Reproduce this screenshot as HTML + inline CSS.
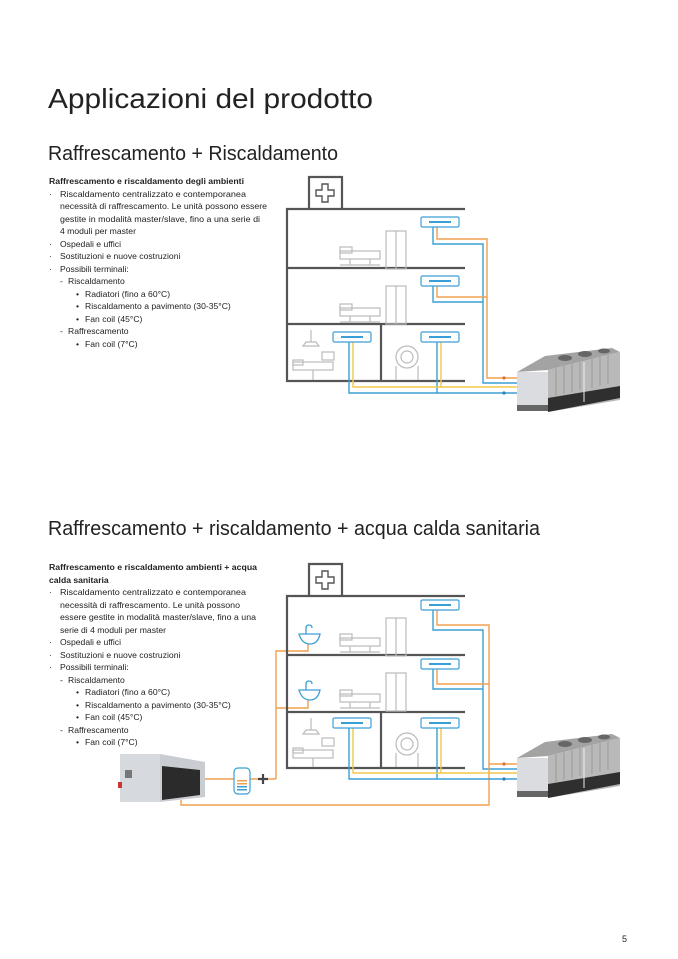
<!DOCTYPE html>
<html><head><meta charset="utf-8"><style>
html,body{margin:0;padding:0;background:#fff;width:678px;height:959px;overflow:hidden}
svg{display:block}
text{font-family:"Liberation Sans",sans-serif;fill:#222}
.t{font-size:8.6px;fill:#3a3a3a}
.b{font-weight:bold;fill:#222}
.bl{stroke:#3a9fd6;fill:none;stroke-width:1.4}
.or{stroke:#f0a050;fill:none;stroke-width:1.4}
.ye{stroke:#f2c74a;fill:none;stroke-width:1.4}
.wall{stroke:#555;fill:none;stroke-width:2.2}
.fu{stroke:#bbb;fill:none;stroke-width:1.2}
</style></head><body>
<svg width="678" height="959" viewBox="0 0 678 959" xmlns="http://www.w3.org/2000/svg">
<defs>
<g id="fc"><rect x="0" y="0" width="38" height="10" rx="1.5" fill="#fff" stroke="#3a9fd6" stroke-width="1.2"/><rect x="8" y="4" width="22" height="2" fill="#3a9fd6"/></g>
<g id="bed" class="fu"><rect x="0" y="6" width="40" height="8"/><rect x="0" y="2" width="12" height="6"/><line x1="10" y1="14" x2="10" y2="20"/><line x1="30" y1="14" x2="30" y2="20"/><line x1="0" y1="20" x2="40" y2="20"/></g>
<g id="ward" class="fu"><rect x="0" y="0" width="20" height="38"/><line x1="10" y1="0" x2="10" y2="38"/></g>
<g id="cross"><path d="M322,184 h6 v6 h6 v6 h-6 v6 h-6 v-6 h-6 v-6 h6 z" fill="none" stroke="#555" stroke-width="1.4"/></g>
<g id="chiller">
<polygon points="517,372 545,356 612,348 620,352 548,370" fill="#a3a3a3"/>
<polygon points="548,370 620,352 620,400 548,412" fill="#b9b9b9"/>
<g stroke="#9a9a9a" stroke-width="1"><line x1="556" y1="368" x2="556" y2="396"/><line x1="564" y1="366" x2="564" y2="394"/><line x1="572" y1="364" x2="572" y2="392"/><line x1="580" y1="362" x2="580" y2="390"/><line x1="592" y1="359" x2="592" y2="388"/><line x1="600" y1="357" x2="600" y2="386"/><line x1="608" y1="355" x2="608" y2="384"/></g>
<rect x="517" y="372" width="31" height="36" fill="#dadcdf"/>
<polygon points="548,398 620,386 620,398 548,412" fill="#2f2f2f"/>
<rect x="517" y="405" width="31" height="6" fill="#666"/>
<ellipse cx="565" cy="358" rx="7" ry="3" fill="#666"/><ellipse cx="585" cy="354" rx="7" ry="3" fill="#666"/><ellipse cx="604" cy="351" rx="6" ry="2.5" fill="#666"/>
<line x1="584" y1="362" x2="584" y2="402" stroke="#eee" stroke-width="1"/>
</g>
</defs>

<text x="48" y="108" font-size="28" textLength="325" lengthAdjust="spacingAndGlyphs" fill="#222">Applicazioni del prodotto</text>
<text x="48" y="160" font-size="20" textLength="290" lengthAdjust="spacingAndGlyphs">Raffrescamento + Riscaldamento</text>
<text x="48" y="535" font-size="20" textLength="492" lengthAdjust="spacingAndGlyphs">Raffrescamento + riscaldamento + acqua calda sanitaria</text>
<text x="622" y="942" font-size="9">5</text>

<g class="t">
<text x="49" y="184" class="t b" textLength="195" lengthAdjust="spacingAndGlyphs">Raffrescamento e riscaldamento degli ambienti</text>
<text x="49" y="197">·</text><text x="60" y="197" textLength="186" lengthAdjust="spacingAndGlyphs">Riscaldamento centralizzato e contemporanea</text>
<text x="60" y="209" textLength="207" lengthAdjust="spacingAndGlyphs">necessità di raffrescamento. Le unità possono essere</text>
<text x="60" y="222" textLength="200" lengthAdjust="spacingAndGlyphs">gestite in modalità master/slave, fino a una serie di</text>
<text x="60" y="234">4 moduli per master</text>
<text x="49" y="247">·</text><text x="60" y="247">Ospedali e uffici</text>
<text x="49" y="259">·</text><text x="60" y="259">Sostituzioni e nuove costruzioni</text>
<text x="49" y="272">·</text><text x="60" y="272">Possibili terminali:</text>
<text x="60" y="284">-</text><text x="68" y="284">Riscaldamento</text>
<text x="76" y="297">•</text><text x="85" y="297">Radiatori (fino a 60°C)</text>
<text x="76" y="309">•</text><text x="85" y="309">Riscaldamento a pavimento (30-35°C)</text>
<text x="76" y="322">•</text><text x="85" y="322">Fan coil (45°C)</text>
<text x="60" y="334">-</text><text x="68" y="334">Raffrescamento</text>
<text x="76" y="347">•</text><text x="85" y="347">Fan coil (7°C)</text>
</g>

<g class="t">
<text x="49" y="570" class="t b" textLength="208" lengthAdjust="spacingAndGlyphs">Raffrescamento e riscaldamento ambienti + acqua</text>
<text x="49" y="583" class="t b">calda sanitaria</text>
<text x="49" y="595">·</text><text x="60" y="595" textLength="186" lengthAdjust="spacingAndGlyphs">Riscaldamento centralizzato e contemporanea</text>
<text x="60" y="608" textLength="180" lengthAdjust="spacingAndGlyphs">necessità di raffrescamento. Le unità possono</text>
<text x="60" y="620" textLength="196" lengthAdjust="spacingAndGlyphs">essere gestite in modalità master/slave, fino a una</text>
<text x="60" y="633">serie di 4 moduli per master</text>
<text x="49" y="645">·</text><text x="60" y="645">Ospedali e uffici</text>
<text x="49" y="658">·</text><text x="60" y="658">Sostituzioni e nuove costruzioni</text>
<text x="49" y="670">·</text><text x="60" y="670">Possibili terminali:</text>
<text x="60" y="683">-</text><text x="68" y="683">Riscaldamento</text>
<text x="76" y="695">•</text><text x="85" y="695">Radiatori (fino a 60°C)</text>
<text x="76" y="708">•</text><text x="85" y="708">Riscaldamento a pavimento (30-35°C)</text>
<text x="76" y="720">•</text><text x="85" y="720">Fan coil (45°C)</text>
<text x="60" y="733">-</text><text x="68" y="733">Raffrescamento</text>
<text x="76" y="745">•</text><text x="85" y="745">Fan coil (7°C)</text>
</g>

<g>
<path class="wall" d="M309,209 V177 H342 V209"/>
<use href="#cross"/>
<path class="wall" d="M465,209 H287 V381 H465 M287,268 H465 M287,324 H465 M381,324 V381"/>
<use href="#bed" x="340" y="245"/><use href="#ward" x="386" y="231"/>
<use href="#bed" x="340" y="302"/><use href="#ward" x="386" y="286"/>
<g class="fu"><line x1="311" y1="330" x2="311" y2="342"/><path d="M303,346 h16 l-3,-4 h-10 z"/><rect x="322" y="352" width="12" height="8"/><rect x="293" y="362" width="40" height="8"/><rect x="293" y="360" width="10" height="5"/><line x1="313" y1="370" x2="313" y2="380"/>
<circle cx="407" cy="357" r="11"/><circle cx="407" cy="357" r="6"/><path d="M396,380 v-14 M418,380 v-14"/></g>
<path class="bl" d="M433,227 V244 H483 V383 H517"/>
<path class="or" d="M437,227 V239 H487 V378 H517"/>
<path class="bl" d="M433,286 V302 H483"/>
<path class="or" d="M437,286 V297 H487"/>
<path class="bl" d="M349,342 V393 H517 M437,342 V393"/>
<path class="ye" d="M353,342 V387 H517 M441,342 V387"/>
<use href="#fc" x="421" y="217"/><use href="#fc" x="421" y="276"/><use href="#fc" x="333" y="332"/><use href="#fc" x="421" y="332"/>
<circle cx="504" cy="378" r="1.6" fill="#e07030"/><circle cx="504" cy="393" r="1.6" fill="#2a80c0"/>
<use href="#chiller"/>
</g>

<g>
<path class="wall" d="M309,596 V564 H342 V596"/>
<use href="#cross" y="387"/>
<path class="or" d="M308,644 V651 H276 V779 M308,700 V708 H276"/>
<path class="wall" d="M465,596 H287 V768 H465 M287,655 H465 M287,712 H465 M381,712 V768"/>
<use href="#bed" x="340" y="632"/><use href="#ward" x="386" y="618"/>
<use href="#bed" x="340" y="688"/><use href="#ward" x="386" y="673"/>
<g stroke="#3a9fd6" fill="none" stroke-width="1.3"><path d="M299,634 h21 q-2,10 -10,10 q-8,0 -11,-10 z"/><path d="M306,634 v-6 q0,-3 3,-3 q3,0 3,3"/>
<path d="M299,690 h21 q-2,10 -10,10 q-8,0 -11,-10 z"/><path d="M306,690 v-6 q0,-3 3,-3 q3,0 3,3"/></g>
<g class="fu"><line x1="311" y1="718" x2="311" y2="730"/><path d="M303,734 h16 l-3,-4 h-10 z"/><rect x="322" y="738" width="12" height="8"/><rect x="293" y="750" width="40" height="8"/><rect x="293" y="748" width="10" height="5"/><line x1="313" y1="758" x2="313" y2="767"/>
<circle cx="407" cy="744" r="11"/><circle cx="407" cy="744" r="6"/><path d="M396,767 v-14 M418,767 v-14"/></g>
<path class="bl" d="M433,610 V630 H483 V769 H517"/>
<path class="or" d="M437,610 V625 H489 V805 H181 V800 M489,764 H517"/>
<path class="bl" d="M433,669 V689 H483"/>
<path class="or" d="M437,669 V684 H489"/>
<path class="bl" d="M349,728 V779 H517 M437,728 V779"/>
<path class="ye" d="M353,728 V773 H517 M441,728 V773"/>
<use href="#fc" x="421" y="600"/><use href="#fc" x="421" y="659"/><use href="#fc" x="333" y="718"/><use href="#fc" x="421" y="718"/>
<circle cx="504" cy="764" r="1.6" fill="#e07030"/><circle cx="504" cy="779" r="1.6" fill="#2a80c0"/>
<use href="#chiller" y="386"/>
<path class="or" d="M205,779 H234 M250,779 H276"/>
<path d="M263,774 v10 M258,779 h10" stroke="#444" stroke-width="2.2"/>
<rect x="234" y="768" width="16" height="26" rx="4" fill="#fff" stroke="#3a9fd6" stroke-width="1.2"/>
<rect x="237" y="780" width="10" height="1.5" fill="#f0a050"/><rect x="237" y="783" width="10" height="1.5" fill="#f0a050"/><rect x="237" y="786" width="10" height="1.5" fill="#3a9fd6"/><rect x="237" y="789" width="10" height="1.5" fill="#3a9fd6"/>
<rect x="120" y="754" width="40" height="48" fill="#d6d9de"/>
<polygon points="160,754 205,762 205,797 160,802" fill="#c9ccd1"/>
<polygon points="162,766 200,770 200,795 162,800" fill="#2b2b2b"/>
<rect x="125" y="770" width="7" height="8" fill="#777"/><rect x="118" y="782" width="4" height="6" fill="#c33"/>
</g>
</svg>
</body></html>
